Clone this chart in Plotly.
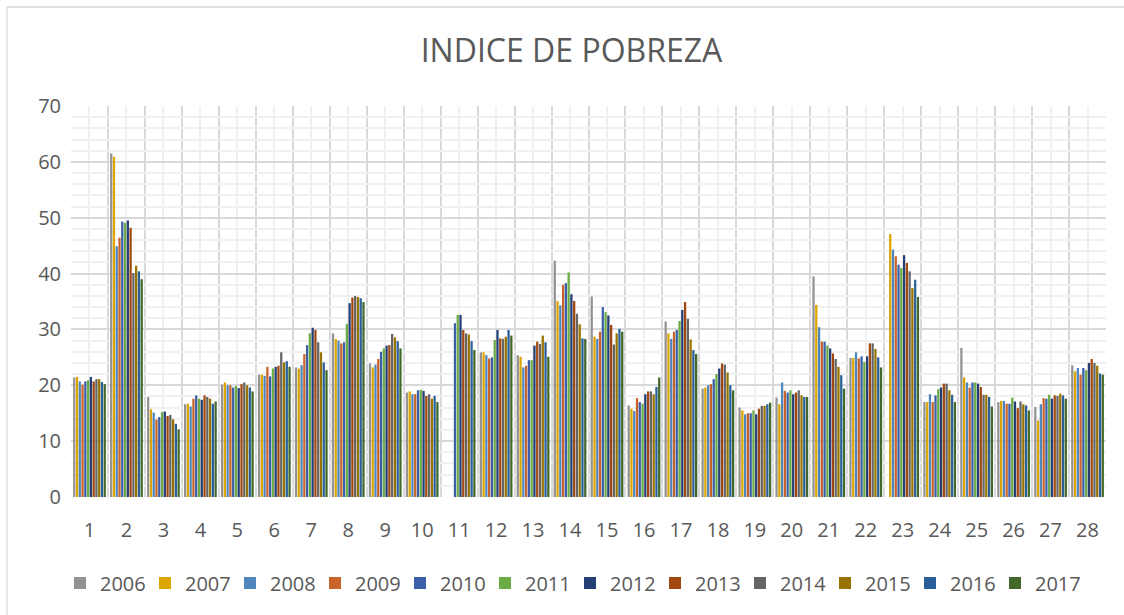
import plotly.graph_objects as go

categories = ["1", "2", "3", "4", "5", "6", "7", "8", "9", "10", "11", "12", "13", "14",
              "15", "16", "17", "18", "19", "20", "21", "22", "23", "24", "25", "26", "27", "28"]
years = ["2006", "2007", "2008", "2009", "2010", "2011", "2012", "2013", "2014", "2015", "2016", "2017"]

v2006 = [21.4, 61.5, 17.9, 16.6, 20.1, 21.9, 23.2, 29.3, 23.9, 18.7, None, 25.9, 25.4, 42.3, 35.9, 16.4, 31.4, 19.4, 16.0, 17.8, 39.5, 24.9, None, 17.0, 26.7, 17.0, 16.1, 23.6]
v2007 = [21.5, 60.9, 15.7, 16.7, 20.5, 21.9, 23.0, 28.3, 23.2, 18.9, None, 25.9, 25.1, 35.1, 28.7, 15.8, 29.3, 19.6, 15.5, 16.6, 34.4, 24.9, 47.1, 17.0, 21.4, 17.2, 13.7, 22.5]
v2008 = [20.7, 44.9, 15.1, 16.2, 20.0, 21.7, 23.6, 28.0, 23.7, 18.4, None, 25.4, 23.2, 34.3, 28.3, 15.4, 28.3, 20.0, 14.8, 20.5, 30.4, 25.9, 44.3, 18.4, 20.5, 17.2, 16.6, 23.1]
v2009 = [20.1, 46.4, 13.9, 17.6, 20.0, 23.3, 25.6, 27.5, 24.7, 18.4, None, 24.8, 23.5, 38.0, 29.6, 17.7, 29.6, 20.2, 15.0, 19.0, 27.8, 24.8, 43.1, 17.0, 19.6, 16.7, 17.7, 21.9]
v2010 = [20.7, 49.3, 14.3, 18.2, 19.6, 21.6, 27.2, 27.7, 26.0, 19.1, 31.1, 25.0, 24.5, 38.3, 34.0, 17.0, 29.9, 21.1, 15.0, 18.7, 27.8, 25.2, 41.6, 18.2, 20.5, 16.7, 17.6, 23.1]
v2011 = [20.9, 49.1, 15.2, 17.6, 19.9, 23.0, 29.3, 31.0, 26.6, 19.2, 32.6, 28.1, 24.5, 40.2, 33.1, 16.7, 31.5, 22.0, 15.5, 19.1, 27.1, 24.2, 41.0, 19.3, 20.5, 17.8, 18.3, 22.7]
v2012 = [21.5, 49.5, 15.3, 17.4, 19.5, 23.3, 30.3, 34.7, 27.1, 19.0, 32.6, 29.9, 27.1, 36.3, 32.5, 18.4, 33.5, 23.0, 14.8, 18.4, 26.6, 25.2, 43.3, 19.6, 20.3, 17.1, 17.6, 24.0]
v2013 = [20.7, 48.2, 14.5, 18.2, 20.2, 23.5, 29.9, 35.7, 27.2, 18.1, 29.9, 28.4, 27.8, 35.1, 30.8, 18.9, 34.9, 23.9, 15.8, 18.7, 25.7, 27.5, 41.9, 20.3, 19.7, 15.9, 18.2, 24.7]
v2014 = [21.1, 40.1, 14.7, 17.9, 20.5, 25.9, 27.7, 36.0, 29.2, 18.4, 29.3, 28.3, 27.4, 32.8, 27.3, 18.9, 31.9, 23.7, 16.3, 19.1, 24.7, 27.5, 40.4, 20.3, 18.3, 17.1, 18.1, 24.0]
v2015 = [21.1, 41.4, 13.9, 17.6, 20.0, 24.1, 25.9, 35.8, 28.6, 17.6, 29.1, 28.7, 28.9, 30.9, 29.3, 18.4, 28.2, 22.3, 16.3, 18.2, 23.3, 26.5, 37.4, 19.1, 18.3, 16.6, 18.5, 23.5]
v2016 = [20.6, 40.4, 13.1, 16.7, 19.6, 24.3, 24.1, 35.6, 27.9, 18.1, 27.9, 29.9, 27.7, 28.4, 30.1, 19.7, 26.3, 20.0, 16.6, 17.9, 21.8, 25.0, 38.9, 18.3, 17.9, 16.4, 18.2, 22.1]
v2017 = [20.2, 39.0, 12.1, 17.1, 18.9, 23.3, 22.7, 34.9, 26.6, 17.0, 26.3, 28.9, 25.1, 28.3, 29.6, 21.4, 25.6, 19.1, 16.9, 17.9, 19.4, 23.2, 35.8, 17.0, 16.2, 15.5, 17.6, 21.9]

series = [v2006, v2007, v2008, v2009, v2010, v2011, v2012, v2013, v2014, v2015, v2016, v2017]
colors = ["#939393", "#DCA500", "#4F86BE", "#C8642A", "#3A5FA8", "#6CAB46",
          "#233F75", "#A0480F", "#656565", "#997300", "#29609A", "#43682B"]

xpos = list(range(1, len(categories) + 1))

fig = go.Figure()
for name, vals, col in zip(years, series, colors):
    fig.add_trace(go.Bar(x=xpos, y=vals, name=name, marker_color=col, marker_line_width=0))

font_family = "Open Sans"
txt_col = "#595959"

PL, PR, PT, PB = 71, 1106, 106, 497
PW, PH = PR - PL, PB - PT

fig.update_layout(
    width=1124, height=615,
    paper_bgcolor="white", plot_bgcolor="white",
    margin=dict(l=PL, r=1124 - PR, t=PT, b=615 - PB, autoexpand=False),
    barmode="group", bargap=0.1, bargroupgap=0.18,
    title=dict(text="INDICE DE POBREZA", x=(571.5 - PL) / PW, xref="paper", xanchor="center",
               y=1 - 50.5 / 615, yanchor="middle",
               font=dict(family=font_family, size=32, color=txt_col)),
    font=dict(family=font_family, size=20, color=txt_col),
    xaxis=dict(range=[0.5, len(categories) + 0.5], tickmode="array", tickvals=xpos, ticktext=categories,
               showgrid=True, gridcolor="#f0f0f0", gridwidth=1.5, zeroline=False, showline=False,
               ticks="", ticklabelstandoff=19,
               minor=dict(tickmode="linear", tick0=0.5, dtick=1, showgrid=True, gridcolor="#d9d9d9", gridwidth=1.5)),
    yaxis=dict(range=[0, 70], dtick=10, showgrid=True, gridcolor="#d9d9d9", gridwidth=1.5,
               zeroline=False, showline=False, ticks="", ticklabelstandoff=9,
               minor=dict(dtick=2, showgrid=True, gridcolor="#f0f0f0", gridwidth=1.5)),
    legend=dict(orientation="h", x=(60 - PL) / PW, xanchor="left", y=-(583 - PB) / PH, yanchor="middle",
                entrywidth=40, entrywidthmode="pixels",
                font=dict(family=font_family, size=20, color=txt_col), traceorder="normal"),
    showlegend=True,
)

# outer chart border (right and bottom edges lie beyond the picture)
fig.add_shape(type="rect", xref="paper", yref="paper",
              x0=(7 - PL) / PW, x1=(1140 - PL) / PW, y0=-(640 - PB) / PH, y1=1 + (PT - 7) / PH,
              line=dict(color="#d9d9d9", width=1.3), fillcolor="rgba(0,0,0,0)", layer="below")

fig.write_html("out.html", config={"displayModeBar": False},
               post_script="document.body.style.margin='0';document.documentElement.style.overflow='hidden';")
